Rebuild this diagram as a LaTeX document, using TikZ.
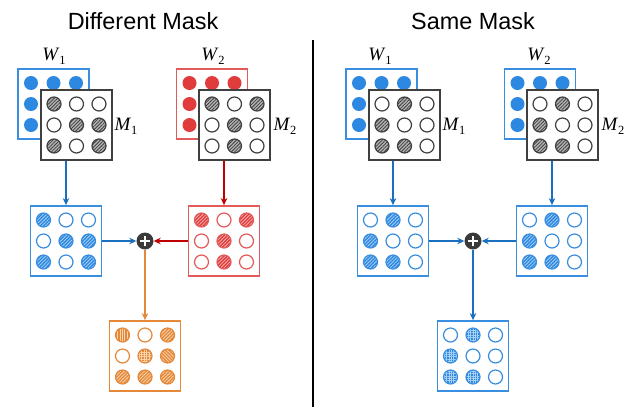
\documentclass[tikz,border=0pt]{standalone}
\usepackage{fontspec}
\setmainfont{Liberation Sans}
\newfontfamily\tnr{Liberation Serif}
\usetikzlibrary{arrows.meta,patterns.meta}
\definecolor{bS}{HTML}{3A8EE0}
\definecolor{bF}{HTML}{2C88E0}
\definecolor{bP}{HTML}{A6D0F5}
\definecolor{bA}{HTML}{1A6FBF}
\definecolor{rS}{HTML}{E35A5A}
\definecolor{rF}{HTML}{E03C3C}
\definecolor{rP}{HTML}{F6B0B0}
\definecolor{rA}{HTML}{C00000}
\definecolor{oS}{HTML}{E5883A}
\definecolor{oF}{HTML}{E58A3C}
\definecolor{oP}{HTML}{F8D3AC}
\definecolor{oA}{HTML}{E08A3C}
\definecolor{kS}{HTML}{404040}
\definecolor{kF}{HTML}{B4B4B4}
\definecolor{kP}{HTML}{404040}
\definecolor{pk}{HTML}{3A3A3A}
\newcommand\dotgrid[4]{%
  \foreach \c [count=\k from 0] in {#4}{%
    \pgfmathtruncatemacro\gi{mod(\k,3)}%
    \pgfmathtruncatemacro\gj{div(\k,3)}%
    \draw[dot\c=#3] ({#1+(\gi-1)*22.5},{#2+(\gj-1)*21}) circle[radius=7bp];
  }}
\tikzset{
  box/.style={draw=#1S, line width=1.8bp, fill=white, minimum width=71bp, minimum height=70bp, inner sep=0pt},
  dotO/.style={draw=#1S, line width=1.2bp, fill=white},
  dotF/.style={fill=#1F, draw=none},
  dotH/.style={draw=#1S, line width=1.2bp, preaction={fill=#1F}, pattern={Lines[angle=45,distance=2.4bp,line width=0.8bp]}, pattern color=#1P},
  dotN/.style={draw=#1S, line width=1.2bp, preaction={fill=#1F}, pattern={Lines[angle=-45,distance=2.4bp,line width=0.8bp]}, pattern color=#1P},
  dotV/.style={draw=#1S, line width=1.2bp, preaction={fill=#1F}, pattern={Lines[angle=90,distance=2.4bp,line width=0.8bp]}, pattern color=#1P},
  dotG/.style={draw=#1S, line width=1.2bp, preaction={fill=#1F}, pattern={Hatch[angle=0,distance=2.4bp,line width=0.6bp]}, pattern color=#1P},
  arr/.style={draw=#1, line width=2bp, -{Stealth[length=7bp,width=6.5bp]}},
  plus/.style={circle, fill=pk, minimum size=17bp, inner sep=0pt,
    path picture={\draw[white,line width=2.2bp]
      ([xshift=-5bp]path picture bounding box.center) -- ([xshift=5bp]path picture bounding box.center)
      ([yshift=-5bp]path picture bounding box.center) -- ([yshift=5bp]path picture bounding box.center);}},
  lab/.style={font=\tnr\fontsize{19}{19}\selectfont, inner sep=0pt},
  title/.style={font=\fontsize{23.5}{23.5}\selectfont, inner sep=0pt, anchor=base},
  divider/.style={draw=black, line width=2.2bp}
}
\newcommand\lbl[2]{\textit{#1}\raisebox{-4bp}{\fontsize{12.5}{12.5}\selectfont #2}}
\begin{document}
\begin{tikzpicture}[x=1bp,y=-1bp]
\useasboundingbox (0,0) rectangle (629,407);
\node[title] (t1) at (143,29) {Different Mask};
\node[title] (t2) at (473,29) {Same Mask};
\coordinate (dtop) at (313,40);
\coordinate (dbot) at (313,407);
\draw[divider] (dtop) -- (dbot);
% ---------- left panel ----------
\node[box=b] (lw1) at (53.5,104) {};
\dotgrid{53.5}{104}{b}{F,F,F,F,F,F,F,F,F}
\node[box=k] (lm1) at (76.5,125) {};
\dotgrid{76.5}{125}{k}{H,O,O,O,H,H,H,O,H}
\node[box=r] (lw2) at (212,104) {};
\dotgrid{212}{104}{r}{F,F,F,F,F,F,F,F,F}
\node[box=k] (lm2) at (234.5,125) {};
\dotgrid{234.5}{125}{k}{H,O,H,O,H,O,O,H,O}
\node[lab] (lw1l) at (54,56) {\lbl{W}{1}};
\node[lab] (lm1l) at (126,126) {\lbl{M}{1}};
\node[lab] (lw2l) at (213,56) {\lbl{W}{2}};
\node[lab] (lm2l) at (285,126) {\lbl{M}{2}};
\node[box=b] (la) at (66,241) {};
\dotgrid{66}{241}{b}{H,O,O,O,H,H,H,O,H}
\node[box=r] (lb) at (224,241) {};
\dotgrid{224}{241}{r}{H,O,H,O,H,O,O,H,O}
\node[plus] (lp) at (145,241) {};
\node[box=o] (lc) at (145,356) {};
\dotgrid{145}{356}{o}{V,O,H,O,G,N,H,H,H}
\draw[arr=bA] (la.north |- lm1.south) -- (la.north);
\draw[arr=rA] (lb.north |- lm2.south) -- (lb.north);
\draw[arr=bA] (la.east) -- (lp.west);
\draw[arr=rA] (lb.west) -- (lp.east);
\draw[arr=oA] (lp.south) -- (lc.north);
% ---------- right panel ----------
\node[box=b] (rw1) at (381.5,104) {};
\dotgrid{381.5}{104}{b}{F,F,F,F,F,F,F,F,F}
\node[box=k] (rm1) at (404.5,125) {};
\dotgrid{404.5}{125}{k}{O,H,O,H,O,O,H,H,O}
\node[box=b] (rw2) at (540,104) {};
\dotgrid{540}{104}{b}{F,F,F,F,F,F,F,F,F}
\node[box=k] (rm2) at (562.5,125) {};
\dotgrid{562.5}{125}{k}{O,H,O,H,O,O,H,H,O}
\node[lab] (rw1l) at (380,56) {\lbl{W}{1}};
\node[lab] (rm1l) at (454,126) {\lbl{M}{1}};
\node[lab] (rw2l) at (539,56) {\lbl{W}{2}};
\node[lab] (rm2l) at (613,126) {\lbl{M}{2}};
\node[box=b] (ra) at (393,241) {};
\dotgrid{393}{241}{b}{O,H,O,H,O,O,H,H,O}
\node[box=b] (rb) at (552,241) {};
\dotgrid{552}{241}{b}{O,H,O,H,O,O,H,H,O}
\node[plus] (rp) at (473,241) {};
\node[box=b] (rc) at (473,356) {};
\dotgrid{473}{356}{b}{O,G,O,G,O,O,G,G,O}
\draw[arr=bA] (ra.north |- rm1.south) -- (ra.north);
\draw[arr=bA] (rb.north |- rm2.south) -- (rb.north);
\draw[arr=bA] (ra.east) -- (rp.west);
\draw[arr=bA] (rb.west) -- (rp.east);
\draw[arr=bA] (rp.south) -- (rc.north);
\end{tikzpicture}
\end{document}
